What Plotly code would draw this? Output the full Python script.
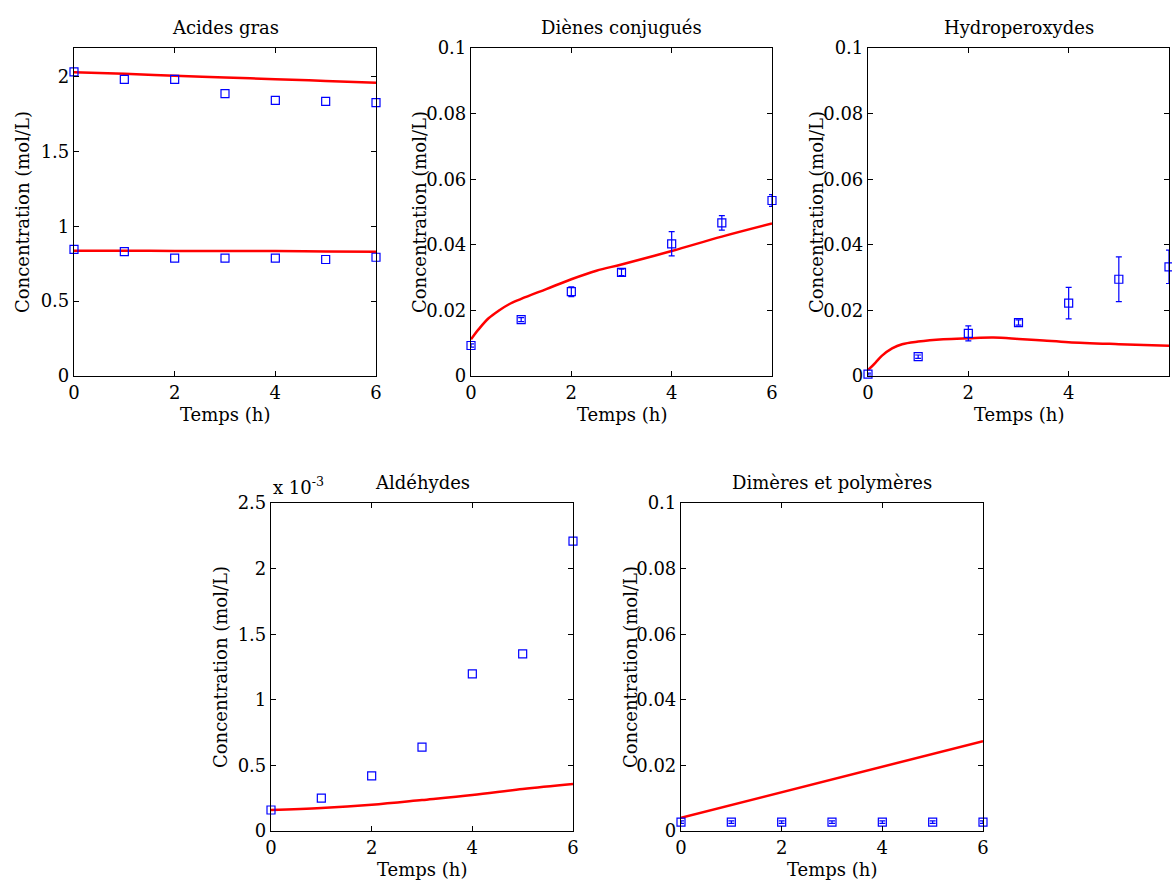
import plotly.graph_objects as go

W, H = 1172, 883
FONT = "DejaVu Serif"
FS = 18
BLUE = "#0000ff"
RED = "#ff0000"

# ---- data ----
t_exp = [0, 1, 2, 3, 4, 5, 6]

# Acides gras (two series)
ag_hi_exp = [2.03, 1.98, 1.98, 1.885, 1.84, 1.833, 1.825]
ag_lo_exp = [0.845, 0.831, 0.787, 0.787, 0.787, 0.778, 0.793]
ag_t_mod = [0, 1, 2, 3, 4, 5, 6]
ag_hi_mod = [2.028, 2.018, 2.005, 1.993, 1.982, 1.970, 1.958]
ag_lo_mod = [0.836, 0.836, 0.835, 0.835, 0.834, 0.831, 0.829]

# Diènes conjugués
dc_exp = [0.0093, 0.0172, 0.0257, 0.0316, 0.0403, 0.0467, 0.0535]
dc_err = [0.0005, 0.0006, 0.0015, 0.0010, 0.0037, 0.0022, 0.0018]
dc_t_mod = [0, 0.15, 0.35, 0.55, 0.75, 1, 1.5, 2, 2.5, 3, 4, 5, 6]
dc_mod = [0.0112, 0.0142, 0.0176, 0.0199, 0.0218, 0.0235, 0.0265, 0.0295, 0.0321, 0.034, 0.0381, 0.0425, 0.0465]

# Hydroperoxydes
hp_exp = [0.0006, 0.0059, 0.0130, 0.0163, 0.0222, 0.0295, 0.0333]
hp_err = [0.0003, 0.0005, 0.0023, 0.0008, 0.0048, 0.0068, 0.0051]
hp_t_mod = [0, 0.15, 0.28, 0.48, 0.68, 1, 1.5, 2, 2.5, 3, 3.5, 4, 5, 6]
hp_mod = [0.0018, 0.0041, 0.0062, 0.0084, 0.0097, 0.0105, 0.0112, 0.0115, 0.0117, 0.0113, 0.0108, 0.0103, 0.0097, 0.0092]

# Aldéhydes (in 1e-3 mol/L)
al_exp = [0.16, 0.25, 0.42, 0.64, 1.197, 1.35, 2.21]
al_t_mod = [0, 1, 2, 3, 4, 5, 6]
al_mod = [0.16, 0.175, 0.20, 0.236, 0.274, 0.32, 0.358]

# Dimères et polymères
dp_exp = [0.0027, 0.0027, 0.0027, 0.0027, 0.0027, 0.0027, 0.0027]
dp_err = [0.0004] * 7
dp_t_mod = [0, 6]
dp_mod = [0.004, 0.0274]

titles = ["Acides gras", "Diènes conjugués", "Hydroperoxydes", "Aldéhydes", "Dimères et polymères"]

# pixel boxes: (left, right, top, bottom)
boxes = [(74, 376, 48, 376), (471, 772, 48, 376), (868, 1169, 48, 376),
         (271, 573, 503, 831), (681, 983, 503, 831)]

fig = go.Figure()

def add_exp(i, y, err=None):
    kw = {}
    if err is not None:
        kw["error_y"] = dict(type="data", array=err, visible=True, color=BLUE, thickness=1.2, width=3)
    fig.add_trace(go.Scatter(x=t_exp, y=y, mode="markers", xaxis=f"x{i}", yaxis=f"y{i}",
                             marker=dict(symbol="square-open", size=8, color=BLUE, line=dict(width=1.2, color=BLUE)),
                             showlegend=False, cliponaxis=False, **kw))

def add_mod(i, t, y):
    fig.add_trace(go.Scatter(x=t, y=y, mode="lines", xaxis=f"x{i}", yaxis=f"y{i}",
                             line=dict(color=RED, width=2.5, shape="spline", smoothing=1.0),
                             showlegend=False))

add_mod(1, ag_t_mod, ag_hi_mod)
add_mod(1, ag_t_mod, ag_lo_mod)
add_exp(1, ag_hi_exp)
add_exp(1, ag_lo_exp)
add_mod(2, dc_t_mod, dc_mod)
add_exp(2, dc_exp, dc_err)
add_mod(3, hp_t_mod, hp_mod)
add_exp(3, hp_exp, hp_err)
al_scale = 1e-3
add_mod(4, al_t_mod, [v * al_scale for v in al_mod])
add_exp(4, [v * al_scale for v in al_exp])
add_mod(5, dp_t_mod, dp_mod)
add_exp(5, dp_exp, dp_err)

tickfont = dict(family=FONT, size=FS, color="black")
axcommon = dict(showline=True, linecolor="black", linewidth=1.2, mirror="allticks", ticks="inside",
                ticklen=5, tickcolor="black", showgrid=False, zeroline=False, tickfont=tickfont,
                automargin=False)

yranges = [[0, 2.19], [0, 0.1], [0, 0.1], [0, 2.5e-3], [0, 0.1]]
yticks = [
    dict(tickvals=[0, 0.5, 1, 1.5, 2], ticktext=["0", "0.5", "1", "1.5", "2"]),
    dict(tickvals=[0, 0.02, 0.04, 0.06, 0.08, 0.1], ticktext=["0", "0.02", "0.04", "0.06", "0.08", "0.1"]),
    dict(tickvals=[0, 0.02, 0.04, 0.06, 0.08, 0.1], ticktext=["0", "0.02", "0.04", "0.06", "0.08", "0.1"]),
    dict(tickvals=[0, 0.5e-3, 1e-3, 1.5e-3, 2e-3, 2.5e-3], ticktext=["0", "0.5", "1", "1.5", "2", "2.5"]),
    dict(tickvals=[0, 0.02, 0.04, 0.06, 0.08, 0.1], ticktext=["0", "0.02", "0.04", "0.06", "0.08", "0.1"]),
]

annotations = []
layout = {}
for k, (l, r, t, b) in enumerate(boxes):
    i = k + 1
    xs = "" if i == 1 else str(i)
    layout[f"xaxis{xs}"] = dict(domain=[l / W, r / W], range=[0, 6], anchor=f"y{i}",
                                tickvals=[0, 2, 4, 6], ticktext=["0", "2", "4", "6"], **axcommon)
    layout[f"yaxis{xs}"] = dict(domain=[1 - b / H, 1 - t / H], range=yranges[k], anchor=f"x{i}",
                                **yticks[k], **axcommon)
    cx = (l + r) / 2
    annotations.append(dict(text=titles[k], x=cx / W, y=1 - (t - 8) / H, xref="paper", yref="paper",
                            xanchor="center", yanchor="bottom", showarrow=False,
                            font=dict(family=FONT, size=FS, color="black")))
    annotations.append(dict(text="Temps (h)", x=cx / W, y=1 - (b + 26) / H, xref="paper", yref="paper",
                            xanchor="center", yanchor="top", showarrow=False,
                            font=dict(family=FONT, size=FS, color="black")))
    annotations.append(dict(text="Concentration (mol/L)", x=(l - 51) / W, y=1 - ((t + b) / 2) / H,
                            xref="paper", yref="paper", xanchor="center", yanchor="middle",
                            textangle=-90, showarrow=False,
                            font=dict(family=FONT, size=FS, color="black")))

annotations.append(dict(text="x 10<sup>-3</sup>", x=271 / W, y=1 - 500 / H, xref="paper", yref="paper",
                        xanchor="left", yanchor="bottom", showarrow=False,
                        font=dict(family=FONT, size=FS, color="black")))

fig.update_layout(width=W, height=H, margin=dict(l=0, r=0, t=0, b=0, autoexpand=False),
                  paper_bgcolor="white", plot_bgcolor="white",
                  annotations=annotations, **layout)

fig.write_html("out.html", config={"displayModeBar": False},
               post_script="document.body.style.margin='0';document.body.style.padding='0';"
                           "document.body.style.overflow='hidden';")
